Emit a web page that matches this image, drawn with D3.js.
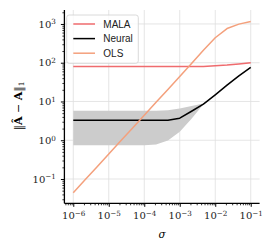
<!DOCTYPE html>
<html>
<head>
<meta charset="utf-8">
<script src="https://cdn.jsdelivr.net/npm/d3@7"></script>
<style>
  body { margin: 0; background: #fff; }
  svg { display: block; }
  .tick-label { font-family: "DejaVu Serif", serif; font-size: 10px; fill: #222; }
  .legend text { font-family: "Liberation Sans", Arial, sans-serif; font-size: 10px; fill: #222; }
</style>
</head>
<body>
<div id="chart"></div>
<script>
// sigma sampled at 1/3 decade
const SIGMA = [1e-6, 2.15e-6, 4.64e-6, 1e-5, 2.15e-5, 4.64e-5, 1e-4, 2.15e-4, 4.64e-4,
  1e-3, 2.15e-3, 4.64e-3, 1e-2, 2.15e-2, 4.64e-2, 1e-1]

const MALA = [80, 80, 80, 80, 80, 80, 80, 80, 80, 80, 80, 80, 83, 87, 93, 100]
const NEURAL = [3.3, 3.3, 3.3, 3.3, 3.3, 3.3, 3.3, 3.3, 3.3, 3.7, 5.6, 8.5, 14.8, 26.3, 45.7, 76]
const NEURAL_LO = [0.74, 0.74, 0.74, 0.74, 0.74, 0.74, 0.74, 0.78, 0.98, 1.66, 3.6, 8.5, 14.8, 26.3, 45.7, 76]
const NEURAL_HI = [5.75, 5.75, 5.75, 5.75, 5.75, 5.75, 5.75, 5.75, 5.9, 6.6, 7.6, 8.9, 14.8, 26.3, 45.7, 76]
const OLS = [0.044, 0.095, 0.204, 0.443, 0.955, 2.04, 4.43, 9.55, 20.4, 44.3, 95.5, 210, 440, 760, 990, 1150]

const SERIES = [
  { name: 'MALA', values: MALA, color: '#ef6b6e' },
  { name: 'Neural', values: NEURAL, color: '#000000' },
  { name: 'OLS', values: OLS, color: '#f4a07c' }
]

const X_TICKS = [1e-6, 1e-5, 1e-4, 1e-3, 1e-2, 1e-1]
const Y_TICKS = [1e-1, 1e0, 1e1, 1e2, 1e3]

const W = 274, H = 251
const plot = { left: 64.4, right: 259.6, top: 10, bottom: 203.3 }

const x = d3.scaleLog().domain([10 ** -6.25, 10 ** -0.75]).range([plot.left, plot.right])
const y = d3.scaleLog().domain([10 ** -1.627, 10 ** 3.36]).range([plot.bottom, plot.top])

const svg = d3.select('#chart').append('svg').attr('width', W).attr('height', H)

// minor ticks inside domain
const minorTicks = (scale) => {
  const [a, b] = scale.domain()
  const out = []
  for (let e = Math.floor(Math.log10(a)); e <= Math.ceil(Math.log10(b)); e++) {
    for (let k = 2; k <= 9; k++) {
      const v = k * 10 ** e
      if (v >= a && v <= b) out.push(v)
    }
  }
  return out
}

// grid
const grid = svg.append('g').attr('stroke', '#dedede').attr('stroke-width', 0.8)
grid.selectAll('.gx').data(X_TICKS).join('line')
  .attr('x1', d => x(d)).attr('x2', d => x(d))
  .attr('y1', plot.top).attr('y2', plot.bottom)
grid.selectAll('.gy').data(Y_TICKS).join('line')
  .attr('x1', plot.left).attr('x2', plot.right)
  .attr('y1', d => y(d)).attr('y2', d => y(d))

// band
const area = d3.area()
  .x((d, i) => x(SIGMA[i]))
  .y0((d, i) => y(NEURAL_LO[i]))
  .y1((d, i) => y(NEURAL_HI[i]))
svg.append('path').datum(SIGMA).attr('d', area).attr('fill', '#cccccc')

const line = d3.line().x((d, i) => x(SIGMA[i])).y(d => y(d))
SERIES.forEach(s => {
  svg.append('path').datum(s.values)
    .attr('d', line)
    .attr('fill', 'none')
    .attr('stroke', s.color)
    .attr('stroke-width', 1.5)
    .attr('stroke-linejoin', 'round')
})

const sup = function (d) {
  const t = d3.select(this)
  const e = Math.round(Math.log10(d))
  t.text('10').attr('class', 'tick-label')
  t.append('tspan').attr('dy', '-0.45em').attr('font-size', '0.72em')
    .text(e < 0 ? '\u2212' + (-e) : String(e))
}

// x axis
const gx = svg.append('g').attr('transform', `translate(0,${plot.bottom})`)
gx.call(d3.axisBottom(x).tickValues(minorTicks(x)).tickSize(2).tickFormat(''))
gx.call(g => g.selectAll('.tick line').attr('stroke-width', 0.8))
const gxMaj = svg.append('g').attr('transform', `translate(0,${plot.bottom})`)
  .call(d3.axisBottom(x).tickValues(X_TICKS).tickSize(3.5).tickPadding(5).tickSizeOuter(0))
gxMaj.selectAll('.tick text').attr('fill', null).each(sup)
gxMaj.selectAll('.tick line').attr('stroke-width', 1)
gxMaj.select('.domain').attr('stroke-width', 1.3).attr('d', `M${plot.left},0H${plot.right}`)
gx.select('.domain').remove()

// y axis
const gy = svg.append('g').attr('transform', `translate(${plot.left},0)`)
gy.call(d3.axisLeft(y).tickValues(minorTicks(y)).tickSize(2).tickFormat(''))
gy.call(g => g.selectAll('.tick line').attr('stroke-width', 0.8))
gy.select('.domain').remove()
const gyMaj = svg.append('g').attr('transform', `translate(${plot.left},0)`)
  .call(d3.axisLeft(y).tickValues(Y_TICKS).tickSize(3.5).tickPadding(5).tickSizeOuter(0))
gyMaj.selectAll('.tick text').attr('fill', null).each(sup)
gyMaj.selectAll('.tick line').attr('stroke-width', 1)
gyMaj.select('.domain').attr('stroke-width', 1.3).attr('d', `M0,${plot.top}V${plot.bottom}`)

// axis labels
svg.append('text')
  .attr('x', 162).attr('y', 238)
  .attr('text-anchor', 'middle')
  .attr('font-family', 'DejaVu Serif, serif')
  .attr('font-style', 'italic')
  .attr('font-size', 10.5)
  .text('σ')

const yl = svg.append('text')
  .attr('transform', 'translate(22,106) rotate(-90)')
  .attr('text-anchor', 'middle')
  .attr('font-family', 'DejaVu Serif, serif')
  .attr('font-size', 11)
yl.append('tspan').text('\u2016')
yl.append('tspan').attr('font-weight', 'bold').text('A\u0302')
yl.append('tspan').text(' \u2212 ')
yl.append('tspan').attr('font-weight', 'bold').text('A')
yl.append('tspan').text('\u2016')
yl.append('tspan').attr('font-size', 7.5).attr('dy', 2).text('1')

// legend
const lg = svg.append('g').attr('class', 'legend')
lg.append('rect')
  .attr('x', 66.7).attr('y', 15).attr('width', 71.6).attr('height', 48.3)
  .attr('rx', 2.5)
  .attr('fill', '#fff').attr('fill-opacity', 0.8)
  .attr('stroke', '#d0d0d0').attr('stroke-width', 0.8)
SERIES.forEach((s, i) => {
  const yy = 24 + i * 14.6
  lg.append('line')
    .attr('x1', 73.3).attr('x2', 95).attr('y1', yy).attr('y2', yy)
    .attr('stroke', s.color).attr('stroke-width', 1.5)
  lg.append('text').attr('x', 103.3).attr('y', yy + 3.6).text(s.name)
})
</script>
</body>
</html>
